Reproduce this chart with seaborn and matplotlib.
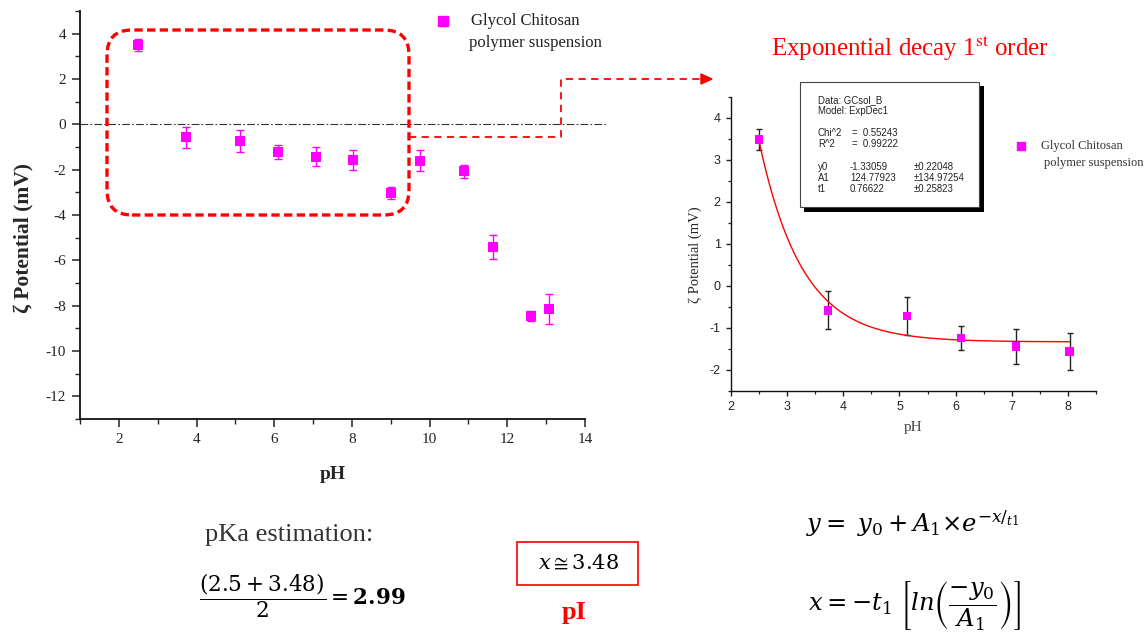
import numpy as np
import pandas as pd
import matplotlib
matplotlib.use("Agg")
import matplotlib.pyplot as plt
import seaborn as sns
from matplotlib.patches import FancyBboxPatch, Rectangle, Polygon
from matplotlib.lines import Line2D
from matplotlib.ticker import MultipleLocator

# ---------------- data ----------------
ph_all = [2.5, 3.73, 5.12, 6.09, 7.07, 8.03, 9.0, 9.76, 10.89, 11.63, 12.6, 13.07]
zeta_all = [3.50, -0.57, -0.73, -1.24, -1.43, -1.57, -3.03, -1.61, -2.08, -5.40, -8.46, -8.14]
err_all = [0.27, 0.46, 0.47, 0.31, 0.43, 0.43, 0.28, 0.46, 0.28, 0.53, 0.22, 0.65]

ph_fit = [2.5, 3.73, 5.13, 6.09, 7.08, 8.03]
zeta_fit = [3.49, -0.58, -0.72, -1.24, -1.44, -1.56]
err_fit = [0.26, 0.45, 0.45, 0.29, 0.42, 0.43]

# ExpDec1 fit parameters (from the fit report)
y0, A1, t1 = -1.33059, 124.77923, 0.76622
fit_x = np.linspace(2.5, 8.03, 200)
fit_y = y0 + A1 * np.exp(-fit_x / t1)

left_xticks = [2, 4, 6, 8, 10, 12, 14]
left_yticks = [-12, -10, -8, -6, -4, -2, 0, 2, 4]
right_xticks = [2, 3, 4, 5, 6, 7, 8]
right_yticks = [-2, -1, 0, 1, 2, 3, 4]

legend_label = ["Glycol Chitosan", "polymer suspension"]
stats_lines = ["Data: GCsol_B", "Model: ExpDec1"]
stats_fit = [("Chi^2", "=  0.55243"), ("R^2", "=  0.99222")]
stats_par = [("y0", "-1.33059", "±0.22048"), ("A1", "124.77923", "±134.97254"),
             ("t1", "0.76622", "±0.25823")]

df_all = pd.DataFrame({"pH": ph_all, "zeta": zeta_all, "err": err_all})
df_fit = pd.DataFrame({"pH": ph_fit, "zeta": zeta_fit, "err": err_fit})
df_curve = pd.DataFrame({"pH": fit_x, "zeta": fit_y})

# ---------------- style ----------------
sns.set_style("ticks")
plt.rcParams["font.family"] = ["Liberation Serif", "DejaVu Serif"]
plt.rcParams["mathtext.fontset"] = "stix"
plt.rcParams["axes.unicode_minus"] = False

MAG = "#FF00FF"
W, H = 1145, 633
fig = plt.figure(figsize=(W / 100, H / 100), dpi=100)
tr = fig.dpi_scale_trans


def P(x, y):
    return (x / 100.0, (H - y) / 100.0)


# ---------------- left chart ----------------
axL = fig.add_axes([80 / W, (H - 419) / H, 505 / W, 408 / H])
axL.errorbar(df_all["pH"], df_all["zeta"], yerr=df_all["err"], fmt="none",
             ecolor=MAG, elinewidth=1.0, capsize=2.9, capthick=1.0, zorder=2)
sns.scatterplot(data=df_all, x="pH", y="zeta", marker="s", s=52, color=MAG,
                edgecolor="none", ax=axL, zorder=3, legend=False)
axL.plot([1, 14.54], [0, 0], color="#333333", lw=0.8, ls=(0, (7, 2, 1.5, 2)),
         clip_on=False, zorder=1)
axL.set_xlim(1, 14)
axL.set_ylim(-13, 5)
axL.set_xticks(left_xticks)
axL.set_yticks(left_yticks)
axL.xaxis.set_minor_locator(MultipleLocator(1))
axL.yaxis.set_minor_locator(MultipleLocator(1))
axL.tick_params(which="major", direction="out", length=6, width=1.1,
                labelsize=11, colors="#222222", pad=4)
axL.tick_params(which="minor", direction="out", length=3.5, width=1.0)
for s in ["left", "bottom"]:
    axL.spines[s].set_linewidth(1.3)
    axL.spines[s].set_color("#111111")
sns.despine(ax=axL)
axL.set_xlabel("pH", fontsize=14, fontweight="bold")
axL.set_ylabel("ζ Potential (mV)", fontsize=15.5, fontweight="bold")
axL.xaxis.set_label_coords(0.5, -0.115)
axL.yaxis.set_label_coords(-0.093, 0.444)

# ---------------- right chart ----------------
axR = fig.add_axes([731 / W, (H - 391) / H, 365 / W, 294 / H])
axR.errorbar(df_fit["pH"], df_fit["zeta"], yerr=df_fit["err"], fmt="none",
             ecolor="#222222", elinewidth=1.0, capsize=2.3, capthick=1.0, zorder=2)
sns.lineplot(data=df_curve, x="pH", y="zeta", color="red", lw=1.0, ax=axR, zorder=3)
sns.scatterplot(data=df_fit, x="pH", y="zeta", marker="s", s=36, color=MAG,
                edgecolor="none", ax=axR, zorder=4, legend=False)
axR.set_xlim(2, 8.5)
axR.set_ylim(-2.5, 4.5)
axR.set_xticks(right_xticks)
axR.set_yticks(right_yticks)
axR.xaxis.set_minor_locator(MultipleLocator(0.5))
axR.yaxis.set_minor_locator(MultipleLocator(0.5))
axR.tick_params(which="major", direction="out", length=3.5, width=1.0,
                labelsize=9, colors="#222222", pad=4)
axR.tick_params(which="minor", direction="out", length=2.5, width=0.9)
for lab in axR.get_xticklabels() + axR.get_yticklabels():
    lab.set_fontfamily("Liberation Sans")
for s in ["left", "bottom"]:
    axR.spines[s].set_linewidth(1.0)
    axR.spines[s].set_color("#111111")
sns.despine(ax=axR)
axR.set_xlabel("pH", fontsize=11, color="#444444")
axR.set_ylabel("ζ Potential (mV)", fontsize=10.5)
axR.xaxis.set_label_coords(0.5, -0.102)
axR.yaxis.set_label_coords(-0.079, 0.463)

# ---------------- legends ----------------
fig.add_artist(Line2D([P(443, 21)[0]], [P(443, 21)[1]], marker="s", ms=7.2,
                      color=MAG, ls="none", transform=tr))
fig.text(*P(471, 21), legend_label[0], transform=tr, fontsize=12, ha="left",
         va="center", color="#222222")
fig.text(*P(469, 43), legend_label[1], transform=tr, fontsize=12, ha="left",
         va="center", color="#222222")
fig.add_artist(Line2D([P(1021, 146)[0]], [P(1021, 146)[1]], marker="s", ms=5.8,
                      color=MAG, ls="none", transform=tr))
fig.text(*P(1041, 146), legend_label[0], transform=tr, fontsize=9, ha="left",
         va="center", color="#333333")
fig.text(*P(1044, 163), legend_label[1], transform=tr, fontsize=9, ha="left",
         va="center", color="#333333")

# ---------------- annotations on the left ----------------
rx0, rx1, ry0, ry1 = 107, 409, 30, 215
fig.add_artist(FancyBboxPatch(P(rx0, ry1), (rx1 - rx0) / 100, (ry1 - ry0) / 100,
                              boxstyle="round,pad=0,rounding_size=0.25",
                              transform=tr, fill=False, ec="red", lw=2.4,
                              ls=(0, (2.5, 1.3)), zorder=5))
pts = [P(409, 137), P(561, 137), P(561, 79), P(703, 79)]
fig.add_artist(Line2D([p[0] for p in pts], [p[1] for p in pts], color="red",
                      lw=1.3, ls=(0, (4, 3)), transform=tr, zorder=5))
fig.add_artist(Polygon([P(701, 74), P(712, 79), P(701, 84)], closed=True,
                       fc="red", ec="red", transform=tr, zorder=5))

# ---------------- title on the right ----------------
fig.text(*P(910, 48), r"Exponential decay 1$^{\mathrm{st}}$ order", transform=tr,
         fontsize=18, color="red", ha="center", va="center")

# ---------------- fit report box ----------------
fig.add_artist(Rectangle(P(804, 212), (984 - 804) / 100, (212 - 86) / 100,
                         fc="black", ec="none", transform=tr, zorder=6))
fig.add_artist(Rectangle(P(800, 207), (979 - 800) / 100, (207 - 82) / 100,
                         fc="white", ec="#444444", lw=0.8, transform=tr, zorder=7))
sfont = dict(transform=tr, fontsize=6.9, family="Liberation Sans", color="#222222",
             ha="left", va="center", zorder=8)
fig.text(*P(818, 100), stats_lines[0], **sfont)
fig.text(*P(818, 111), stats_lines[1], **sfont)
for (name, val), yy in zip(stats_fit, [133, 144]):
    fig.text(*P(818, yy), name, **sfont)
    fig.text(*P(852, yy), val, **sfont)
for (name, val, err), yy in zip(stats_par, [167, 178, 189]):
    fig.text(*P(818, yy), name, **sfont)
    fig.text(*P(850, yy), val, **sfont)
    fig.text(*P(914, yy), err, **sfont)

# ---------------- bottom equations ----------------
mfont = dict(transform=tr, math_fontfamily="dejavuserif", color="black")
fig.text(*P(205, 535), "pKa estimation:", transform=tr, fontsize=19, ha="left",
         va="center", color="#333333")
fig.text(*P(199, 596), r"$\dfrac{(2.5+3.48)}{2}=\mathbf{2.99}$",
         fontsize=15.5, ha="left", va="center", **mfont)
fig.add_artist(Rectangle(P(517, 585), (638 - 517) / 100, (585 - 542) / 100,
                         fill=False, ec="red", lw=1.2, transform=tr))
fig.text(*P(579, 564), r"$x\cong3.48$", fontsize=15,
         ha="center", va="center", **mfont)
fig.text(*P(574, 612), "pI", transform=tr, fontsize=19, fontweight="bold",
         ha="center", va="center", color="red")
fig.text(*P(913, 524), r"$y=\ y_0+A_1{\times}e^{-x/_{t1}}$",
         fontsize=17.5, ha="center", va="center", **mfont)
fig.text(*P(914, 605), r"$x=-t_1\ \left[ln\left(\dfrac{-y_0}{A_1}\right)\right]$",
         fontsize=17.5, ha="center", va="center", **mfont)

fig.savefig("out.png", dpi=100)
